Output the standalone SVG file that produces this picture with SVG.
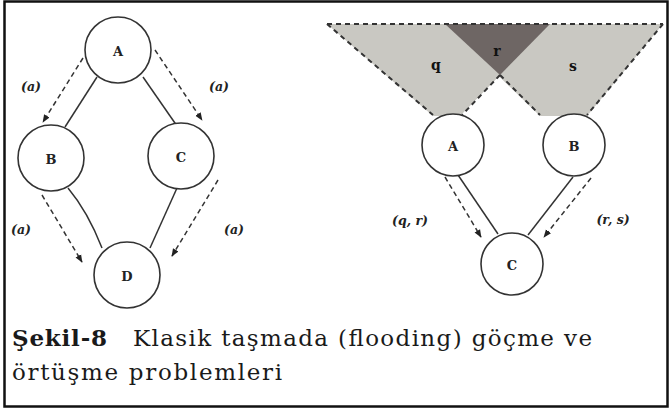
<svg xmlns="http://www.w3.org/2000/svg" width="670" height="410" viewBox="0 0 670 410">
<style>
.node circle{fill:#fff;stroke:#333;stroke-width:1.6}
.node text{font-family:"DejaVu Serif","Liberation Serif",serif;font-weight:bold;font-size:13px;fill:#222;text-anchor:middle;dominant-baseline:central}
.solid{fill:none;stroke:#333;stroke-width:1.5}
.dash{fill:none;stroke:#333;stroke-width:1.5;stroke-dasharray:5 3.5;marker-end:url(#ah)}
.lbl{font-family:"DejaVu Serif","Liberation Serif",serif;font-weight:bold;font-style:italic;font-size:12.5px;fill:#222;text-anchor:middle;dominant-baseline:central}
.cone{stroke:none}
.cedge{fill:none;stroke:#333;stroke-width:2;stroke-dasharray:5 4}
.cap{font-family:"DejaVu Serif","Liberation Serif",serif;font-size:23px;fill:#1a1a1a}
</style>
<defs>
<marker id="ah" viewBox="0 0 10 10" refX="9" refY="5" markerWidth="8" markerHeight="8" markerUnits="userSpaceOnUse" orient="auto">
<path d="M0,1 L10,5 L0,9 Z" fill="#222"/>
</marker>
</defs>
<rect x="0" y="0" width="670" height="410" fill="#fff"/>
<rect x="4.5" y="1.5" width="663" height="405" fill="none" stroke="#111" stroke-width="2.5"/>

<g id="cones">
<polygon class="cone" points="327,24 550,24 460,116 433,116" fill="#c9c8c2"/>
<polygon class="cone" points="445,24 663,24 587,116 540,116" fill="#c9c8c2"/>
<polygon class="cone" points="445,24 550,24 500,75" fill="#6e6664"/>
<line class="cedge" x1="327" y1="24" x2="663" y2="24"/>
<line class="cedge" x1="327" y1="24" x2="433" y2="115"/>
<line class="cedge" x1="500" y1="75" x2="462" y2="115"/>
<line class="cedge" x1="500" y1="75" x2="540" y2="115"/>
<line class="cedge" x1="663" y1="24" x2="587" y2="115"/>
<text x="436" y="70" font-family="DejaVu Serif,serif" font-weight="bold" font-size="14" text-anchor="middle" fill="#111">q</text>
<text x="497" y="56" font-family="DejaVu Serif,serif" font-weight="bold" font-size="14" text-anchor="middle" fill="#111">r</text>
<text x="573" y="71" font-family="DejaVu Serif,serif" font-weight="bold" font-size="14" text-anchor="middle" fill="#111">s</text>
</g>

<g id="connectors">
<line class="solid" x1="97" y1="77" x2="65" y2="127"/>
<line class="solid" x1="143" y1="77" x2="177" y2="126"/>
<path class="solid" d="M68,188 Q88,212 102,248"/>
<line class="solid" x1="177" y1="188" x2="150" y2="248"/>
<line class="dash" x1="83" y1="58" x2="43" y2="122"/>
<line class="dash" x1="155" y1="50" x2="202" y2="120"/>
<line class="dash" x1="42" y1="195" x2="82" y2="262"/>
<line class="dash" x1="218" y1="180" x2="172" y2="256"/>
<line class="solid" x1="456" y1="172" x2="498" y2="234"/>
<line class="solid" x1="573" y1="177" x2="528" y2="235"/>
<line class="dash" x1="445" y1="177" x2="481" y2="237"/>
<line class="dash" x1="591" y1="178" x2="544" y2="237"/>
<text class="lbl" x="31" y="86">(a)</text>
<text class="lbl" x="219" y="86">(a)</text>
<text class="lbl" x="21" y="229">(a)</text>
<text class="lbl" x="234" y="229">(a)</text>
<text class="lbl" x="410" y="220">(q, r)</text>
<text class="lbl" x="613" y="219">(r, s)</text>
</g>

<g id="nodeA1" class="node"><circle cx="118" cy="50" r="33"/><text x="118" y="51">A</text></g>
<g id="nodeB1" class="node"><circle cx="51" cy="158" r="33"/><text x="51" y="159">B</text></g>
<g id="nodeC1" class="node"><circle cx="181" cy="156" r="33"/><text x="181" y="157">C</text></g>
<g id="nodeD1" class="node"><circle cx="127" cy="275" r="33"/><text x="127" y="276">D</text></g>
<g id="nodeA2" class="node"><circle cx="453" cy="145" r="31"/><text x="453" y="146">A</text></g>
<g id="nodeB2" class="node"><circle cx="574" cy="145" r="31"/><text x="574" y="146">B</text></g>
<g id="nodeC2" class="node"><circle cx="512" cy="264" r="31"/><text x="512" y="265">C</text></g>

<g id="caption">
<text class="cap" x="12" y="346" font-weight="bold" textLength="95">Şekil-8</text>
<text class="cap" x="133" y="346" textLength="459">Klasik taşmada (flooding) göçme ve</text>
<text class="cap" x="12" y="380" textLength="270">örtüşme problemleri</text>
</g>
</svg>
